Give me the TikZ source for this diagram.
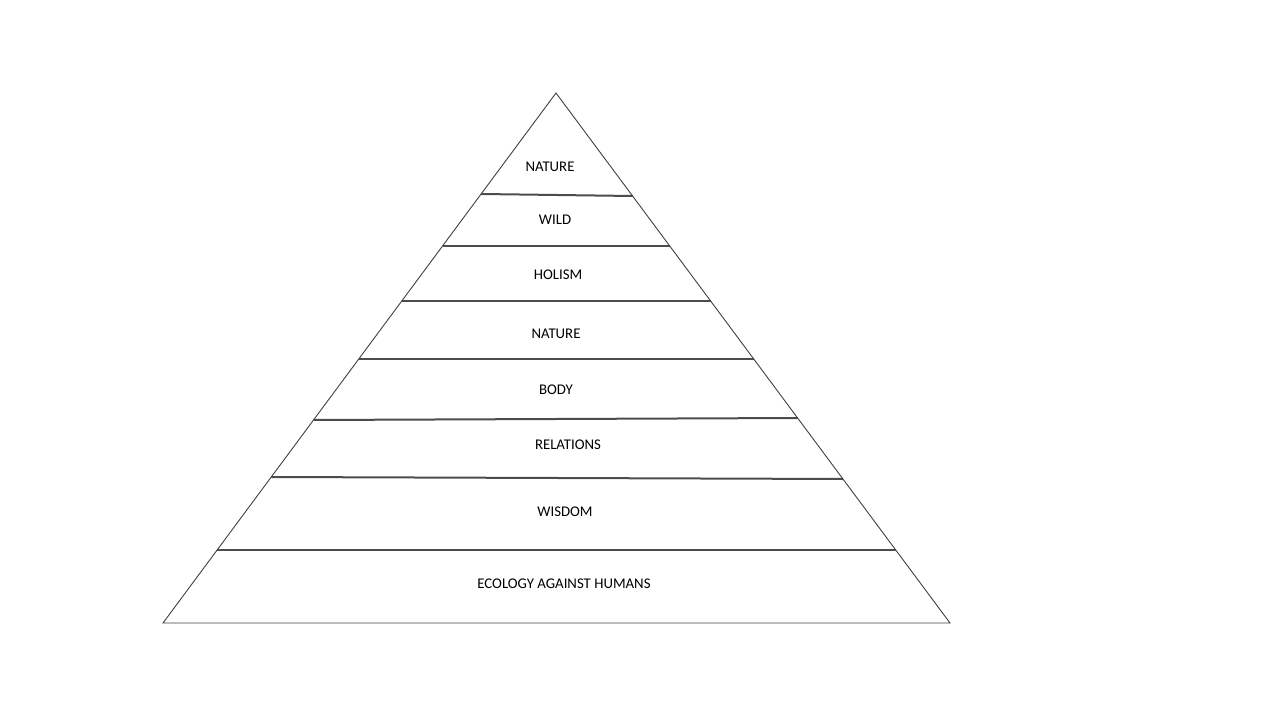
\documentclass[tikz,border=0pt]{standalone}
\usepackage{fontspec}
\setmainfont{Carlito}
\usetikzlibrary{calc}

\begin{document}
\begin{tikzpicture}[x=1pt, y=-1pt,
    edge/.style = {draw=black!75, line width=0.9pt},
    layer/.style = {draw=black!70, line width=2pt},
    lbl/.style = {font=\fontsize{14.8}{17}\selectfont, inner sep=0pt}]
   \useasboundingbox (0,0) rectangle (1280,720);

   \coordinate (apex) at (556,93);
   \coordinate (bl) at (163,623);
   \coordinate (br) at (950,623);

   % layer lines
   \foreach \ya/\yb in {194/196, 246/246, 301/301, 359/359, 420/418, 477/479, 550/550}
      \draw[layer] ($(apex)!{(\ya-93)/530}!(bl)$) -- ($(apex)!{(\yb-93)/530}!(br)$);

   \draw[edge] (apex) -- (bl) -- (br) -- cycle;

   \node (nature)[lbl] at (550,167) {NATURE};
   \node (wild)[lbl] at (555,220) {WILD};
   \node (holism)[lbl] at (558,275) {HOLISM};
   \node (nature2)[lbl] at (556,334) {NATURE};
   \node (body)[lbl] at (556,390) {BODY};
   \node (relations)[lbl] at (568,445) {RELATIONS};
   \node (wisdom)[lbl] at (565,512) {WISDOM};
   \node (ecology)[lbl] at (564,584) {ECOLOGY AGAINST HUMANS};
\end{tikzpicture}
\end{document}
